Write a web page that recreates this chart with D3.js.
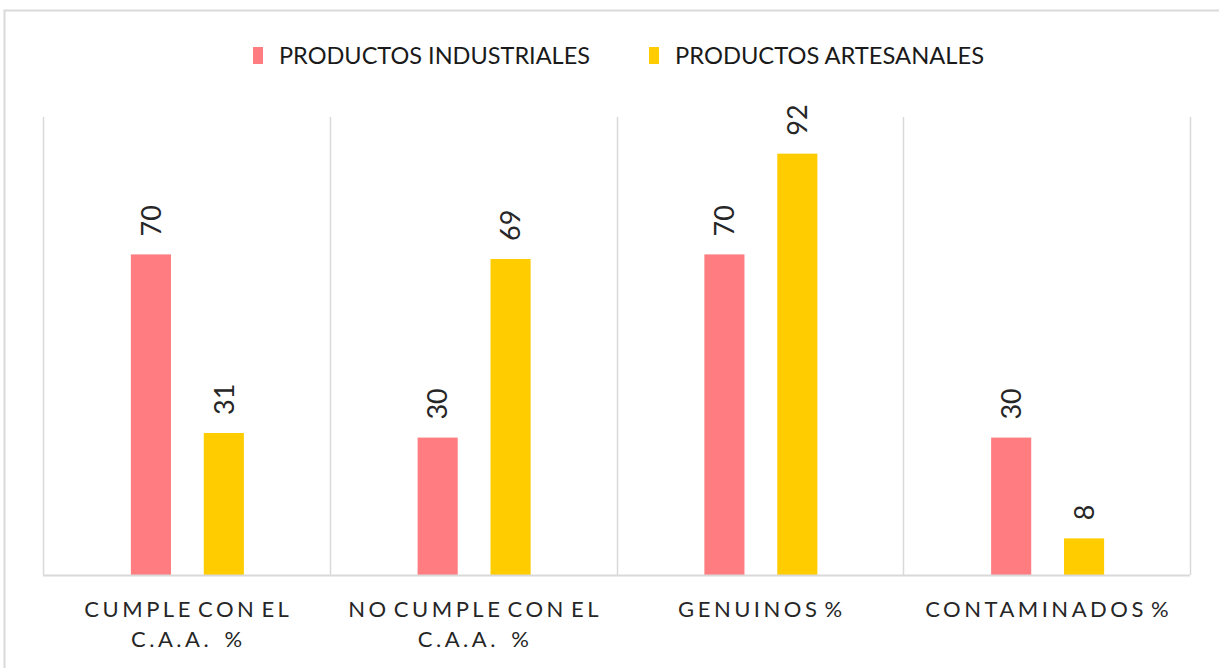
<!DOCTYPE html>
<html lang="es">
<head>
<meta charset="utf-8">
<title>Productos industriales vs artesanales</title>
<script src="https://cdn.jsdelivr.net/npm/d3@7"></script>
<style>
  body { margin: 0; background: #fff; }
  svg { font-family: Lato, "Open Sans", sans-serif; }
  .cat text { fill: #262626; font-size: 22px; letter-spacing: 3.5px; word-spacing: -5px; white-space: pre; }
  .val { fill: #262626; font-size: 27px; }
  .legend text { fill: #1a1a1a; font-size: 24px; }
</style>
</head>
<body>
<div id="chart"></div>
<script>
// data
var categories = [["CUMPLE CON EL", "C.A.A.   %"], ["NO CUMPLE CON EL", "C.A.A.   %"], ["GENUINOS %"], ["CONTAMINADOS %"]];
var catKeys = ["cumple", "nocumple", "genuinos", "contaminados"];
var seriesNames = ["PRODUCTOS INDUSTRIALES", "PRODUCTOS ARTESANALES"];
var industriales = [70, 30, 70, 30];
var artesanales = [31, 69, 92, 8];
var colors = ["#FF7C80", "#FFCC00"];

var W = 1219, H = 668;
var margin = {top: 117, right: 29, bottom: 93, left: 43};
var width = W - margin.left - margin.right,
    height = H - margin.top - margin.bottom;

var svg = d3.select("#chart").append("svg")
    .attr("width", W)
    .attr("height", H);

// chart frame
svg.append("rect")
    .attr("x", 4.5).attr("y", 10.5)
    .attr("width", W + 10).attr("height", H + 10)
    .attr("fill", "none")
    .attr("stroke", "#d9d9d9")
    .attr("stroke-width", 2);

var g = svg.append("g")
    .attr("transform", "translate(" + margin.left + "," + margin.top + ")");

var x0 = d3.scaleBand().domain(catKeys).range([0, width]);
var bw = x0.bandwidth();
var x1 = d3.scaleBand().domain(seriesNames)
    .range([bw / 2 - 55.5, bw / 2 + 57.5])
    .paddingInner(0.45);
var y = d3.scaleLinear().domain([0, 100]).range([height, 0]);

// vertical separators
var seps = catKeys.map(function(k) { return x0(k); }).concat([width]);
g.append("g").selectAll("line")
  .data(seps)
  .enter().append("line")
    .attr("x1", function(d) { return Math.round(d) + 0.5; })
    .attr("x2", function(d) { return Math.round(d) + 0.5; })
    .attr("y1", 0).attr("y2", height)
    .attr("stroke", "#d9d9d9")
    .attr("stroke-width", 1.5);

var rows = catKeys.map(function(k, i) {
  return {key: k, vals: [industriales[i], artesanales[i]]};
});

var groups = g.append("g").selectAll("g")
  .data(rows)
  .enter().append("g")
    .attr("transform", function(d) { return "translate(" + x0(d.key) + ",0)"; });

groups.selectAll("rect")
  .data(function(d) { return d.vals.map(function(v, j) { return {s: seriesNames[j], v: v, j: j}; }); })
  .enter().append("rect")
    .attr("x", function(d) { return x1(d.s); })
    .attr("width", x1.bandwidth())
    .attr("y", function(d) { return y(d.v); })
    .attr("height", function(d) { return height - y(d.v); })
    .attr("fill", function(d) { return colors[d.j]; });

// rotated value labels
groups.selectAll("text.val")
  .data(function(d) { return d.vals.map(function(v, j) { return {s: seriesNames[j], v: v}; }); })
  .enter().append("text")
    .attr("class", "val")
    .attr("transform", function(d) {
      return "translate(" + (x1(d.s) + x1.bandwidth() / 2) + "," + (y(d.v) - 18) + ")rotate(-90)";
    })
    .attr("dy", "0.36em")
    .text(function(d) { return d.v; });

// baseline
g.append("line")
    .attr("x1", 0).attr("x2", width)
    .attr("y1", height + 0.5).attr("y2", height + 0.5)
    .attr("stroke", "#d9d9d9")
    .attr("stroke-width", 2);

// category labels
var cat = g.append("g").attr("class", "cat");
catKeys.forEach(function(k, i) {
  var t = cat.append("text")
      .attr("text-anchor", "middle")
      .attr("transform", "translate(" + (x0(k) + bw / 2 + 2) + "," + (height + 42) + ")");
  categories[i].forEach(function(line, li) {
    t.append("tspan")
        .attr("x", 0)
        .attr("dy", li === 0 ? 0 : 30)
        .text(line);
  });
});

// legend
var legX = [253, 649];
var leg = svg.append("g").attr("class", "legend");
seriesNames.forEach(function(s, i) {
  leg.append("rect")
      .attr("x", legX[i]).attr("y", 47)
      .attr("width", 10).attr("height", 17)
      .attr("fill", colors[i]);
  leg.append("text")
      .attr("x", legX[i] + 26).attr("y", 64)
      .attr("textLength", i === 0 ? 311 : 309)
      .attr("lengthAdjust", "spacingAndGlyphs")
      .text(s);
});
</script>
</body>
</html>
